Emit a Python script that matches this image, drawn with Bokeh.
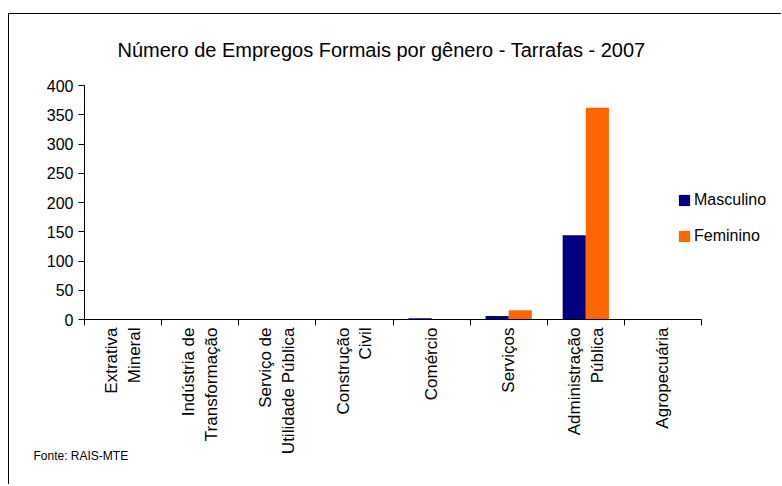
import math
from bokeh.plotting import figure
from bokeh.models import (Range1d, FixedTicker, Title, Legend, LegendItem, ColumnDataSource)
from bokeh.transform import dodge
from bokeh.embed import file_html
from bokeh.resources import INLINE

# ---- data ----
categories = ["Extrativa Mineral", "Indústria de Transformação",
              "Serviço de Utilidade Pública", "Construção Civil", "Comércio",
              "Serviços", "Administração Pública", "Agropecuária"]
category_labels = ["Extrativa\nMineral", "Indústria de\nTransformação",
                   "Serviço de\nUtilidade Pública", "Construção\nCivil", "Comércio",
                   "Serviços", "Administração\nPública", "Agropecuária"]
masculino = [0, 0, 0, 0, 2, 6, 144, 0]
feminino = [0, 0, 0, 0, 0, 16, 362, 0]
y_ticks = [0, 50, 100, 150, 200, 250, 300, 350, 400]
series_names = ["Masculino", "Feminino"]
series_colors = ["#000080", "#FF6600"]
title_text = "Número de Empregos Formais por gênero - Tarrafas - 2007"
source_text = "Fonte: RAIS-MTE"

FONT = "Liberation Sans"

# ---- layout constants (pixels) ----
W, H = 773, 471
LEFT, TOP, BOTTOM = 75, 71, 166
AXIS_W = 617                   # width of the category axis
FRAME_W = W - LEFT             # frame runs to the right edge so the legend is not clipped

n = len(categories)
slot = [i + 0.5 for i in range(n)]          # category centre on a 0..n scale
bounds = [float(i) for i in range(n + 1)]   # category boundaries (tick marks)
source = ColumnDataSource(dict(cat=categories, slot=slot, masc=masculino, fem=feminino))

p = figure(width=W, height=H, output_backend="svg", toolbar_location=None,
           x_range=Range1d(0, n * FRAME_W / AXIS_W),
           y_range=Range1d(y_ticks[0], y_ticks[-1]),
           min_border_left=LEFT, min_border_right=0,
           min_border_top=TOP, min_border_bottom=BOTTOM)
p.outline_line_color = None
p.grid.grid_line_color = None
p.background_fill_color = "white"
p.border_fill_color = "white"
p.styles = {"border-top": "1px solid black", "border-left": "1px solid black",
            "position": "relative", "left": "8px", "top": "13px"}

bar_w = 0.3
r1 = p.vbar(x=dodge("slot", -bar_w / 2), top="masc", width=bar_w,
            source=source, fill_color=series_colors[0], line_color=None)
r2 = p.vbar(x=dodge("slot", bar_w / 2), top="fem", width=bar_w,
            source=source, fill_color=series_colors[1], line_color=None)

# y axis
yax = p.yaxis[0]
yax.ticker = FixedTicker(ticks=y_ticks, minor_ticks=[])
yax.axis_line_color = "black"
yax.major_tick_line_color = "black"
yax.major_tick_out = 6
yax.major_tick_in = 0
yax.minor_tick_out = 0
yax.major_label_standoff = 5
yax.major_label_text_font = FONT
yax.major_label_text_font_size = "16px"
yax.major_label_text_color = "black"

# x axis: labels at category centres, tick marks between categories
xax = p.xaxis[0]
xax.bounds = (0, n)
xax.ticker = FixedTicker(ticks=slot, minor_ticks=bounds)
xax.major_label_overrides = {c: lab for c, lab in zip(slot, category_labels)}
xax.axis_line_color = "black"
xax.major_tick_out = 0
xax.major_tick_in = 0
xax.minor_tick_out = 6
xax.minor_tick_in = 0
xax.minor_tick_line_color = "black"
xax.major_label_orientation = math.pi / 2
xax.major_label_standoff = 2
xax.major_label_text_font = FONT
xax.major_label_text_font_size = "17px"
xax.major_label_text_color = "black"

# title (above) and source note (below)
p.title = Title(text=title_text, align="left", offset=33, standoff=45,
                vertical_align="top",
                text_font=FONT, text_font_size="20px", text_font_style="normal",
                text_color="black")
p.add_layout(Title(text=source_text, align="left", offset=-51, standoff=-18,
                   vertical_align="top",
                   text_font=FONT, text_font_size="12px", text_font_style="normal",
                   text_color="black"), "below")

legend = Legend(items=[LegendItem(label=series_names[0], renderers=[r1]),
                       LegendItem(label=series_names[1], renderers=[r2])],
                location=(593, 74), orientation="vertical",
                background_fill_alpha=0, border_line_alpha=0,
                padding=0, margin=0, spacing=18,
                glyph_width=14, glyph_height=14, label_standoff=3,
                label_height=16, label_width=20,
                label_text_font=FONT, label_text_font_size="16px",
                label_text_color="black")
p.add_layout(legend)

open("out.html", "w").write(file_html(p, INLINE))
